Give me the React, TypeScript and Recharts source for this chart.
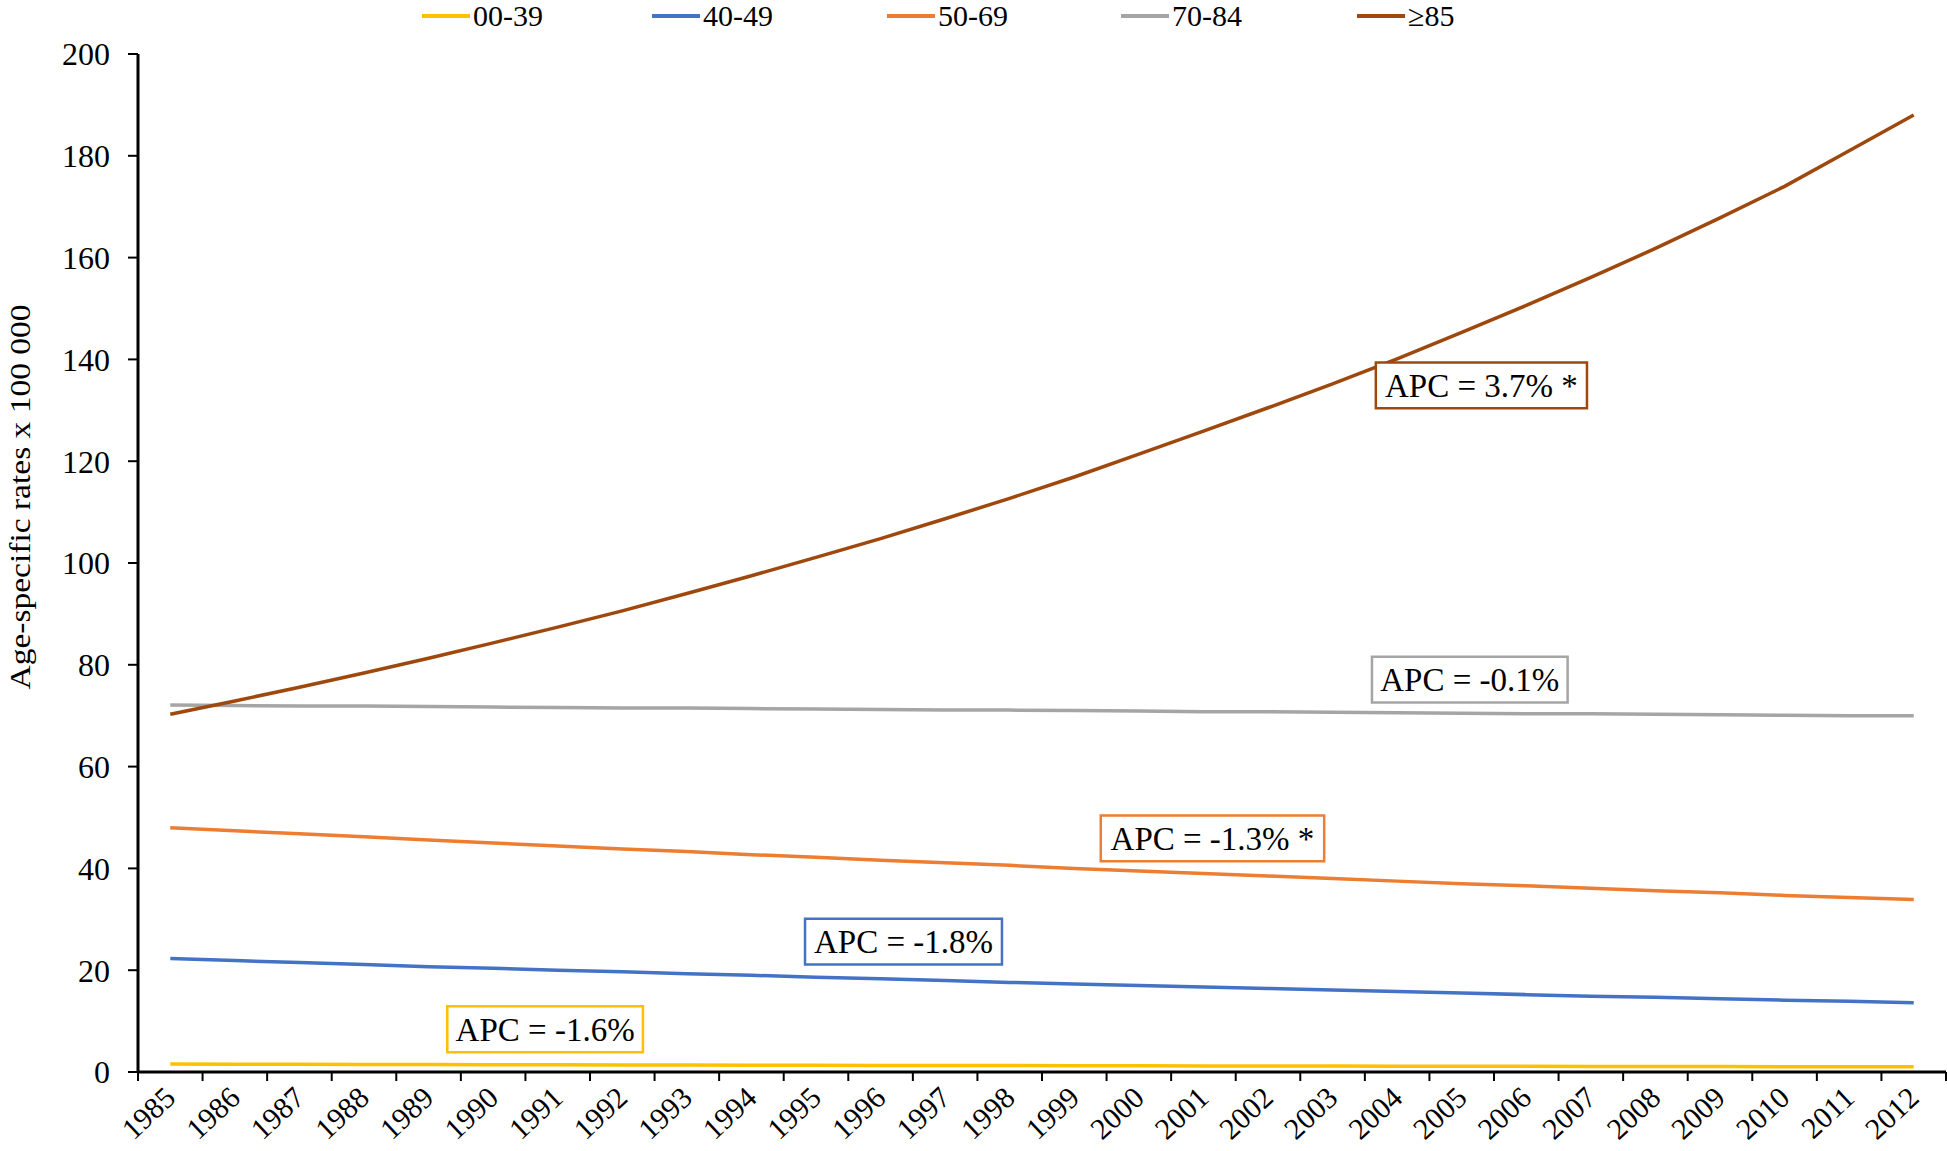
import React from 'react'
import {
  LineChart, Line, XAxis, YAxis, Legend, ReferenceArea,
} from 'recharts'

// ─── Tokens ──────────────────────────────────────────────────────────────────
const FONT   = '"Liberation Serif", "Times New Roman", serif'
const YELLOW = '#FFC000'
const BLUE   = '#4472C4'
const ORANGE = '#ED7D31'
const GRAY   = '#A5A5A5'
const BROWN  = '#9E480E'

// ─── Data ────────────────────────────────────────────────────────────────────
const years = [
  1985, 1986, 1987, 1988, 1989, 1990, 1991, 1992, 1993, 1994,
  1995, 1996, 1997, 1998, 1999, 2000, 2001, 2002, 2003, 2004,
  2005, 2006, 2007, 2008, 2009, 2010, 2011, 2012,
]
const age00_39 = [
  1.55, 1.53, 1.50, 1.48, 1.46, 1.43, 1.41, 1.39, 1.37, 1.35,
  1.33, 1.30, 1.28, 1.26, 1.24, 1.22, 1.20, 1.18, 1.17, 1.15,
  1.13, 1.11, 1.09, 1.07, 1.06, 1.04, 1.02, 1.01,
]
const age40_49 = [
  22.3, 21.9, 21.5, 21.1, 20.7, 20.4, 20.0, 19.7, 19.3, 19.0,
  18.6, 18.3, 18.0, 17.6, 17.3, 17.0, 16.7, 16.4, 16.1, 15.8,
  15.5, 15.2, 14.9, 14.7, 14.4, 14.1, 13.9, 13.6,
]
const age50_69 = [
  48.0, 47.4, 46.8, 46.2, 45.6, 45.0, 44.4, 43.8, 43.3, 42.7,
  42.2, 41.6, 41.1, 40.6, 40.0, 39.5, 39.0, 38.5, 38.0, 37.5,
  37.0, 36.6, 36.1, 35.6, 35.2, 34.7, 34.3, 33.9,
]
const age70_84 = [
  72.1, 72.0, 71.9, 71.9, 71.8, 71.7, 71.6, 71.5, 71.5, 71.4,
  71.3, 71.2, 71.1, 71.1, 71.0, 70.9, 70.8, 70.8, 70.7, 70.6,
  70.5, 70.4, 70.4, 70.3, 70.2, 70.1, 70.0, 70.0,
]
const age85plus = [
  70.3, 72.9, 75.6, 78.4, 81.3, 84.3, 87.4, 90.6, 94.0, 97.5,
  101.1, 104.8, 108.7, 112.7, 116.9, 121.4, 125.9, 130.5, 135.2, 140.1,
  145.3, 150.6, 156.1, 161.8, 167.8, 174.0, 181.0, 188.0,
]

const yTicks = [0, 20, 40, 60, 80, 100, 120, 140, 160, 180, 200]
// tick marks sit between the categories
const xBoundaries = [...years.map(y => y - 0.5), 2012.5]

const series = [
  { key: 'a', name: '00-39', color: YELLOW, values: age00_39 },
  { key: 'b', name: '40-49', color: BLUE,   values: age40_49 },
  { key: 'c', name: '50-69', color: ORANGE, values: age50_69 },
  { key: 'd', name: '70-84', color: GRAY,   values: age70_84 },
  { key: 'e', name: '≥85',   color: BROWN,  values: age85plus },
]

// APC boxes, in data units
const apcBoxes = [
  { text: 'APC = 3.7% *',  color: BROWN,  x1: 2003.67, x2: 2006.94, y1: 130.4, y2: 139.4 },
  { text: 'APC = -0.1%',   color: GRAY,   x1: 2003.61, x2: 2006.64, y1: 72.6,  y2: 81.6 },
  { text: 'APC = -1.3% *', color: ORANGE, x1: 1999.41, x2: 2002.87, y1: 41.4,  y2: 50.4 },
  { text: 'APC = -1.8%',   color: BLUE,   x1: 1994.83, x2: 1997.88, y1: 21.1,  y2: 30.1 },
  { text: 'APC = -1.6%',   color: YELLOW, x1: 1989.29, x2: 1992.32, y1: 3.9,   y2: 12.9 },
]

const data = years.map((year, i) => {
  const row: Record<string, number> = { year }
  series.forEach(s => { row[s.key] = s.values[i] })
  return row
})

// ─── Legend ──────────────────────────────────────────────────────────────────
const legendLeft = [422, 652, 887, 1121, 1357]

function TopLegend() {
  return (
    <div style={{ position: 'relative', width: 1947, height: 30 }}>
      {series.map((s, i) => (
        <div key={s.key} style={{ position: 'absolute', left: legendLeft[i], top: 0, height: 30, display: 'flex', alignItems: 'center' }}>
          <div style={{ width: 48, height: 4, background: s.color, marginRight: 3 }} />
          <span style={{ fontFamily: FONT, fontSize: 30, lineHeight: '30px', color: '#000' }}>{s.name}</span>
        </div>
      ))}
    </div>
  )
}

// ─── Axis ticks ──────────────────────────────────────────────────────────────
function YearTick({ x, y, payload }: { x: number; y: number; payload: { value: number } }) {
  const ax = x + 7
  const ay = y + 16
  return (
    <text x={ax} y={ay} textAnchor="end" fontFamily={FONT} fontSize={30} fill="#000"
      transform={`rotate(-43, ${ax}, ${ay})`}>
      {payload.value}
    </text>
  )
}

function YLabel() {
  return (
    <text x={30} y={497} textAnchor="middle" fontFamily={FONT} fontSize={30} fill="#000"
      textLength={385} lengthAdjust="spacingAndGlyphs"
      transform="rotate(-90, 30, 497)">
      Age-specific rates x 100 000
    </text>
  )
}

export default function App() {
  return (
    <div style={{ position: 'absolute', left: 0, top: 0, width: 1947, height: 1151, background: '#fff' }}>
      <LineChart width={1947} height={1151} data={data} margin={{ top: 24, right: 1, left: 0, bottom: 0 }}>
        <Legend verticalAlign="top" align="left" height={30} content={() => <TopLegend />}
          wrapperStyle={{ top: 1, left: 0 }} />
        <XAxis xAxisId="grid" dataKey="year" type="number" domain={[1984.5, 2012.5]} ticks={xBoundaries}
          tickFormatter={() => ''} tickSize={9} height={4}
          axisLine={{ stroke: '#000', strokeWidth: 3 }} tickLine={{ stroke: '#000', strokeWidth: 2 }} />
        <XAxis xAxisId="lab" dataKey="year" type="number" domain={[1984.5, 2012.5]} ticks={years}
          axisLine={false} tickLine={false} height={75} interval={0} tick={YearTick as never} />
        <YAxis domain={[0, 200]} ticks={yTicks} width={138} tickSize={10} tickMargin={18}
          axisLine={{ stroke: '#000', strokeWidth: 3 }} tickLine={{ stroke: '#000', strokeWidth: 2 }}
          tick={{ fill: '#000', fontSize: 32, fontFamily: FONT }}
          label={<YLabel />} />
        {series.map(s => (
          <Line key={s.key} xAxisId="grid" dataKey={s.key} name={s.name} type="linear"
            stroke={s.color} strokeWidth={3.5} dot={false} isAnimationActive={false} />
        ))}
        {apcBoxes.map(b => (
          <ReferenceArea key={b.text} xAxisId="grid" x1={b.x1} x2={b.x2} y1={b.y1} y2={b.y2}
            fill="#fff" fillOpacity={1} stroke={b.color} strokeWidth={2.5} zIndex={1000}
            label={{ value: b.text, position: 'center', fontSize: 33, fill: '#000', fontFamily: FONT }} />
        ))}
      </LineChart>
    </div>
  )
}
